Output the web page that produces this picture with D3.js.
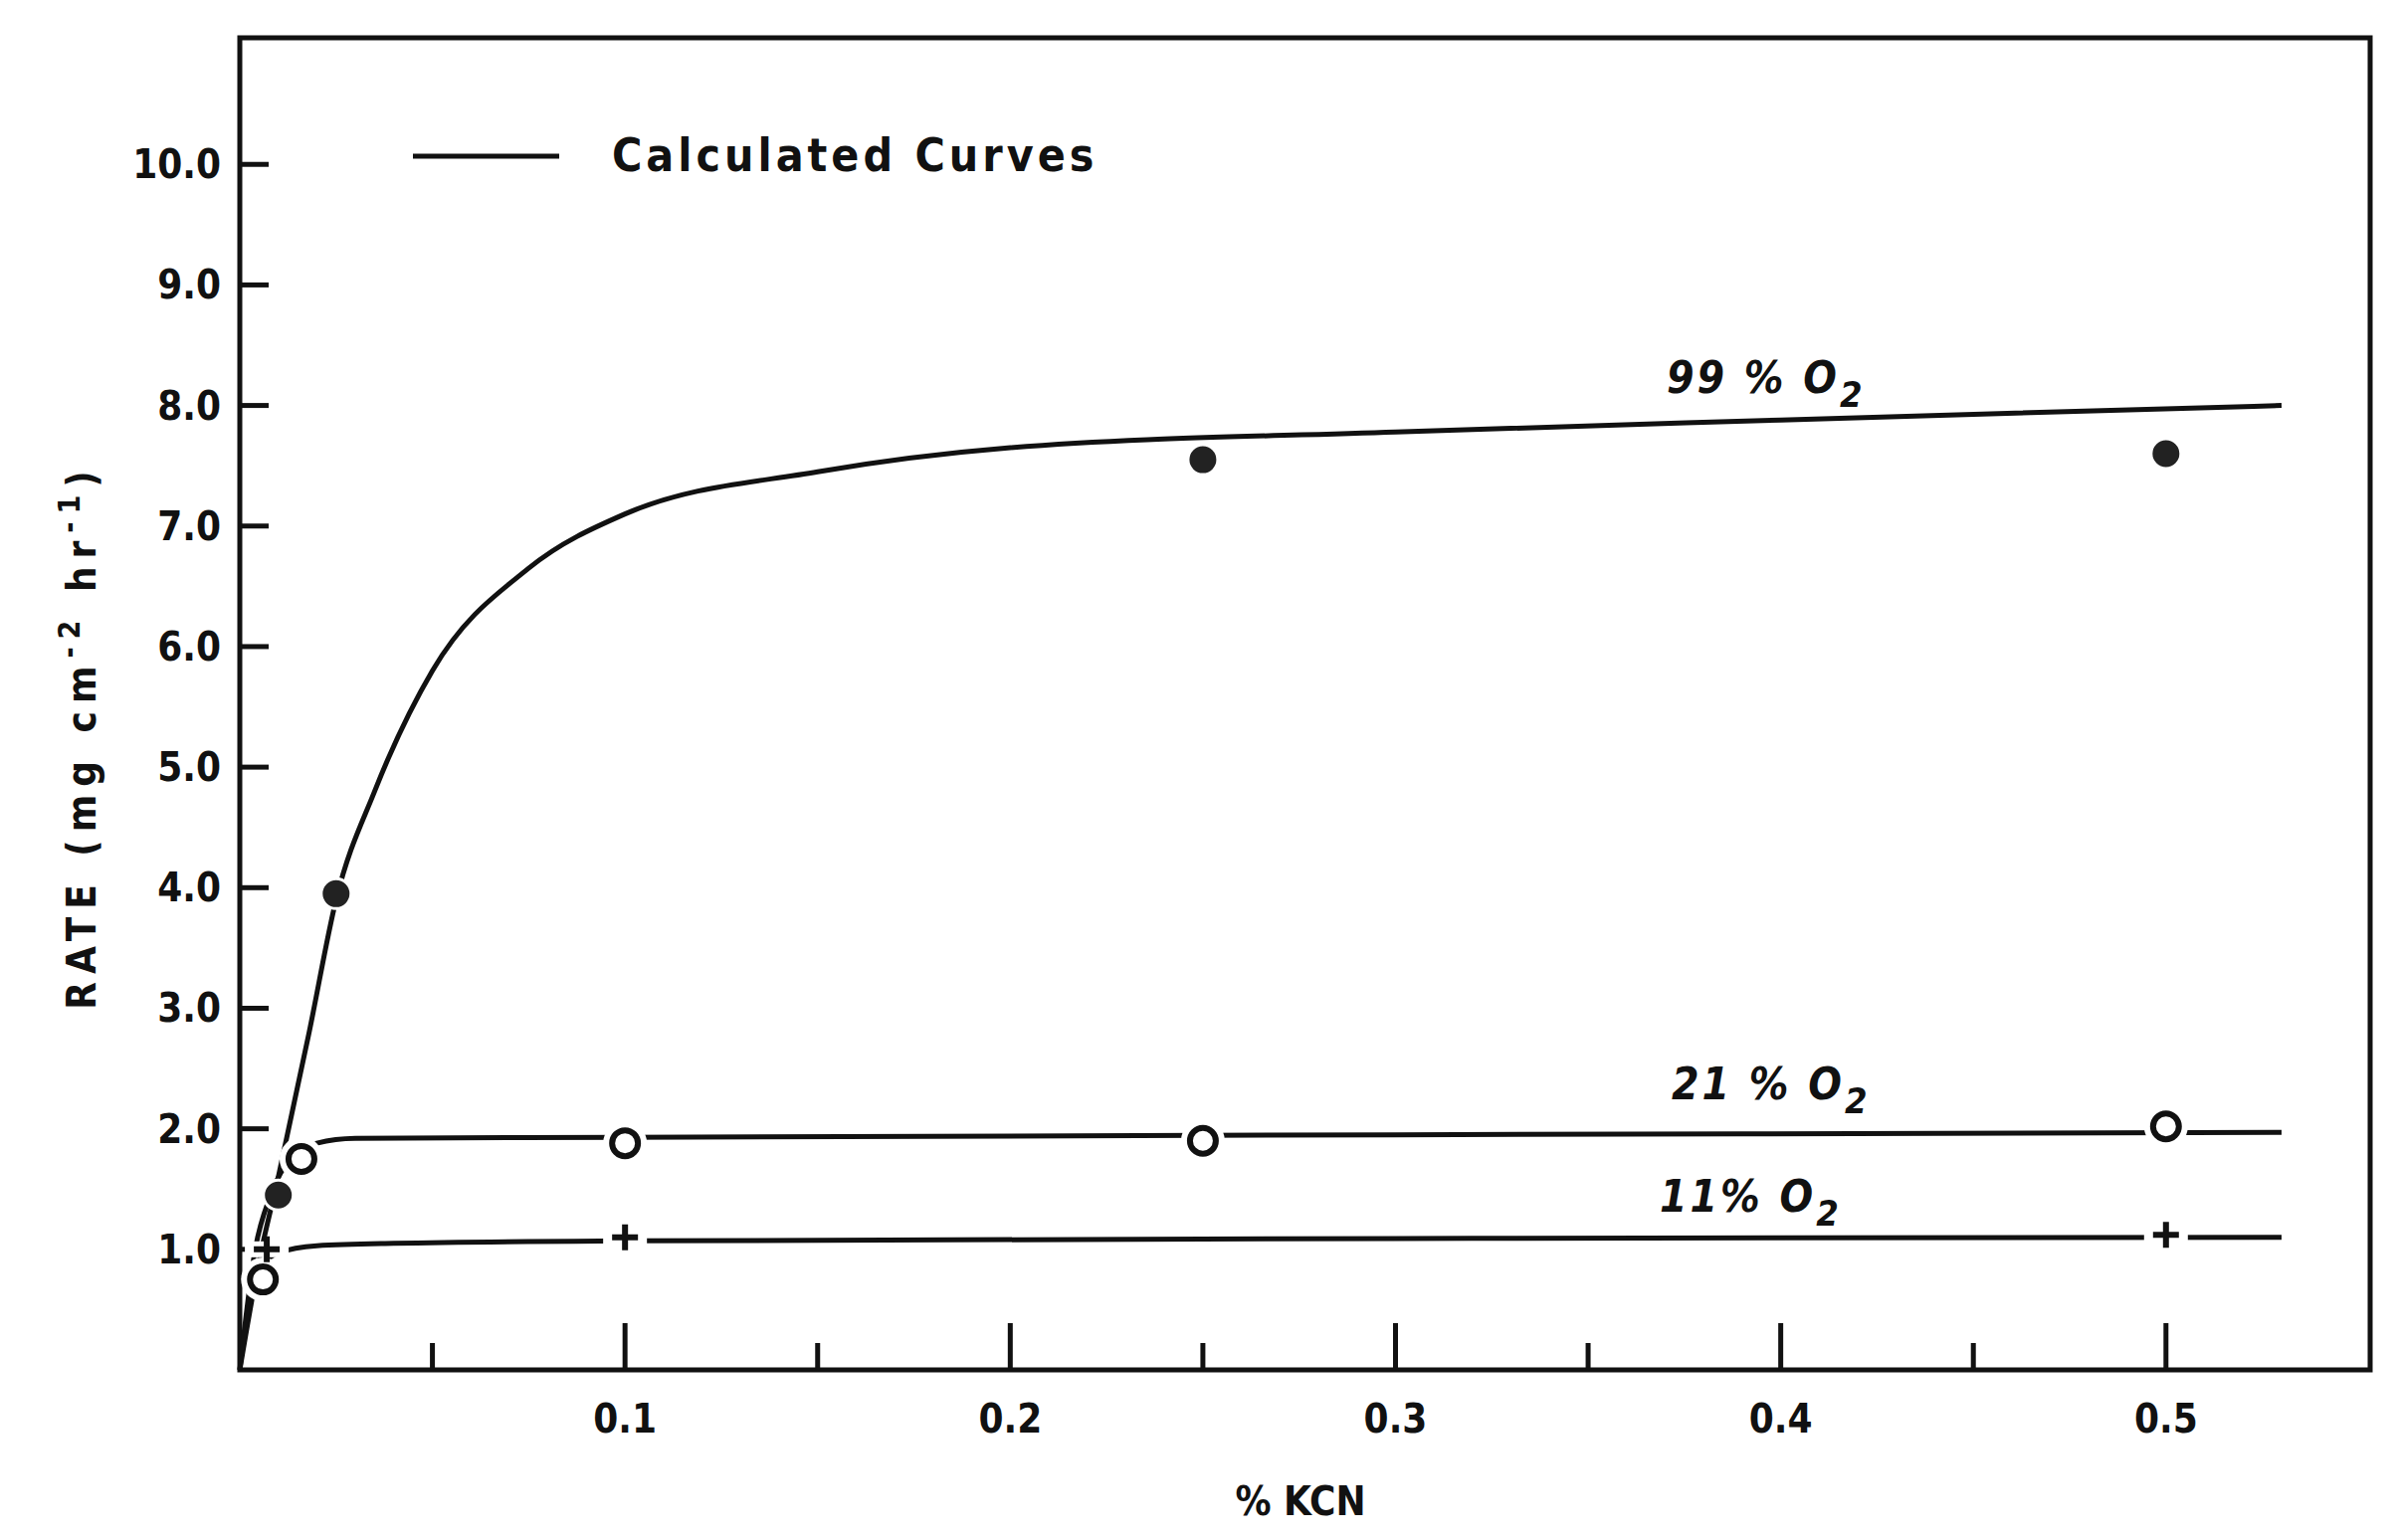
<!DOCTYPE html><html><head><meta charset="utf-8"><script src="https://cdn.jsdelivr.net/npm/d3@7"></script>
<style>body{margin:0;background:#fff}text{font-family:"DejaVu Sans Condensed","DejaVu Sans";font-weight:bold;fill:#111}</style></head><body><svg id="c" width="2410" height="1548"></svg><script>
const yTicks=[1,2,3,4,5,6,7,8,9,10];
const xMajor=[0.1,0.2,0.3,0.4,0.5];
const xMinor=[0.05,0.15,0.25,0.35,0.45];
const curve99=[[0,0],[0.005,0.9],[0.01,1.6],[0.018,2.8],[0.025,3.9],[0.035,4.8],[0.05,5.8],[0.075,6.65],[0.1,7.1],[0.15,7.45],[0.2,7.65],[0.3,7.78],[0.4,7.88],[0.53,8.0]];
const curve21=[[0,0],[0.004,1.0],[0.008,1.45],[0.014,1.78],[0.02,1.88],[0.03,1.92],[0.1,1.93],[0.3,1.95],[0.53,1.97]];
const curve11=[[0.004,0.85],[0.01,0.97],[0.02,1.03],[0.04,1.05],[0.1,1.07],[0.3,1.09],[0.53,1.1]];
const pts99=[[0.01,1.45],[0.025,3.95],[0.25,7.55],[0.5,7.6]];
const pts21=[[0.006,0.75],[0.016,1.75],[0.1,1.88],[0.25,1.9],[0.5,2.02]];
const pts11=[[0.007,1.0],[0.1,1.1],[0.5,1.12]];
const svg=d3.select("#c");
const x=d3.scaleLinear().domain([0,0.553]).range([241,2382]);
const y=d3.scaleLinear().domain([0,11.05]).range([1377,38]);
svg.append("rect").attr("x",241).attr("y",38).attr("width",2141).attr("height",1339).attr("fill","none").attr("stroke","#111").attr("stroke-width",5);
const g=svg.append("g");
yTicks.forEach(v=>{g.append("line").attr("x1",241).attr("x2",270).attr("y1",y(v)).attr("y2",y(v)).attr("stroke","#111").attr("stroke-width",5);
 g.append("text").attr("x",222).attr("y",y(v)+14).attr("text-anchor","end").attr("font-size",40).text(v.toFixed(1));});
xMajor.forEach(v=>{g.append("line").attr("x1",x(v)).attr("x2",x(v)).attr("y1",1377).attr("y2",1330).attr("stroke","#111").attr("stroke-width",5);
 g.append("text").attr("x",x(v)).attr("y",1440).attr("text-anchor","middle").attr("font-size",40).text(v.toFixed(1));});
xMinor.forEach(v=>g.append("line").attr("x1",x(v)).attr("x2",x(v)).attr("y1",1377).attr("y2",1350).attr("stroke","#111").attr("stroke-width",5));
const line=d3.line().x(d=>x(d[0])).y(d=>y(d[1])).curve(d3.curveMonotoneX);
[curve99,curve21,curve11].forEach(c=>svg.append("path").attr("d",line(c)).attr("fill","none").attr("stroke","#111").attr("stroke-width",5));
pts99.forEach(p=>svg.append("circle").attr("cx",x(p[0])).attr("cy",y(p[1])).attr("r",15).attr("fill","#222").attr("stroke","#fff").attr("stroke-width",3));
pts21.forEach(p=>{svg.append("circle").attr("cx",x(p[0])).attr("cy",y(p[1])).attr("r",22).attr("fill","#fff");
 svg.append("circle").attr("cx",x(p[0])).attr("cy",y(p[1])).attr("r",13).attr("fill","#fff").attr("stroke","#111").attr("stroke-width",6);});
pts11.forEach(p=>{const cx=x(p[0]),cy=y(p[1]);svg.append("rect").attr("x",cx-22).attr("y",cy-8).attr("width",44).attr("height",16).attr("fill","#fff");
 svg.append("path").attr("d",`M${cx-13},${cy}H${cx+13}M${cx},${cy-13}V${cy+13}`).attr("stroke","#111").attr("stroke-width",6);});
svg.append("line").attr("x1",415).attr("x2",562).attr("y1",157).attr("y2",157).attr("stroke","#111").attr("stroke-width",5);
svg.append("text").attr("x",615).attr("y",172).attr("font-size",46).attr("letter-spacing",4).text("Calculated Curves");
function lab(t,xx,yy){const tx=svg.append("text").attr("x",xx).attr("y",yy).attr("font-size",44).attr("font-style","italic").attr("letter-spacing",3);
 tx.append("tspan").text(t);tx.append("tspan").attr("dy",14).attr("font-size",36).text("2");}
lab("99 % O",1675,395);lab("21 % O",1680,1105);lab("11% O",1668,1218);
svg.append("text").attr("x",1307).attr("y",1523).attr("text-anchor","middle").attr("font-size",40).text("% KCN");
const yl=svg.append("text").attr("transform","translate(96,740) rotate(-90)").attr("text-anchor","middle").attr("font-size",40).attr("letter-spacing",8);
yl.append("tspan").text("RATE (mg cm");yl.append("tspan").attr("dy",-16).attr("font-size",30).text("-2");yl.append("tspan").attr("dy",16).text(" hr");yl.append("tspan").attr("dy",-16).attr("font-size",30).text("-1");yl.append("tspan").attr("dy",16).text(")");
</script></body></html>
